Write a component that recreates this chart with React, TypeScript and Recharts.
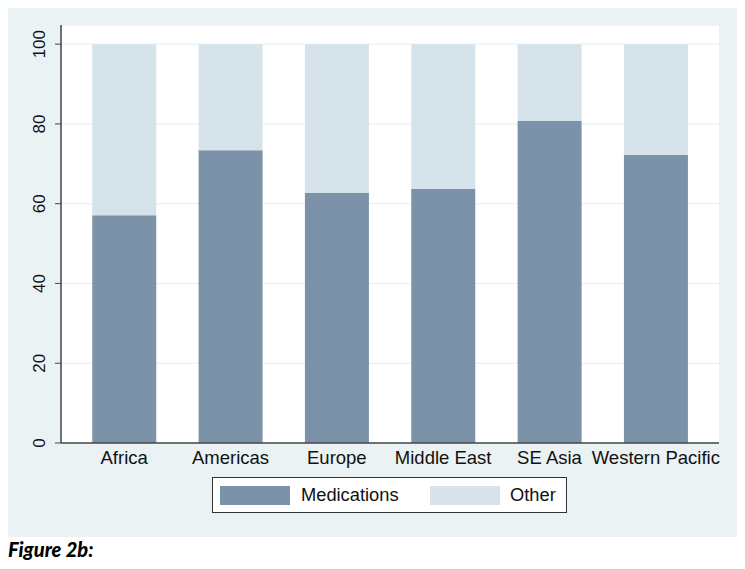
import { Bar, BarChart, CartesianGrid, XAxis, YAxis } from 'recharts'

const regions = ['Africa', 'Americas', 'Europe', 'Middle East', 'SE Asia', 'Western Pacific']
const medications = [57.1, 73.4, 62.7, 63.7, 80.7, 72.2]
const other = [42.9, 26.6, 37.3, 36.3, 19.3, 27.8]
const yTicks = [0, 20, 40, 60, 80, 100]

const MED_COLOR = '#7b92a9'
const OTHER_COLOR = '#d7e3ea'
const PANEL_BG = '#eaf2f3'
const FONT = '"Liberation Sans", Arial, sans-serif'

const rows = regions.map((region, i) => ({
  region,
  medications: medications[i],
  other: other[i],
}))

const YTick = (props: any) => {
  const { x, y, payload } = props
  const tx = x - 10
  return (
    <text
      x={tx}
      y={y}
      transform={`rotate(-90 ${tx} ${y})`}
      textAnchor="middle"
      fill="#111"
      fontSize={17}
      fontFamily={FONT}
    >
      {payload.value}
    </text>
  )
}

const LegendBox = () => (
  <div
    style={{
      position: 'absolute',
      left: 204,
      top: 469,
      width: 353,
      height: 34,
      background: '#fff',
      border: '1.5px solid #333',
      fontFamily: FONT,
      fontSize: 18.3,
      color: '#111',
    }}
  >
    <div style={{ position: 'absolute', left: 7, top: 8, width: 70, height: 19, background: MED_COLOR }} />
    <div style={{ position: 'absolute', left: 88, top: 7, lineHeight: '20px' }}>Medications</div>
    <div style={{ position: 'absolute', left: 217, top: 8, width: 70, height: 19, background: OTHER_COLOR }} />
    <div style={{ position: 'absolute', left: 297, top: 7, lineHeight: '20px' }}>Other</div>
  </div>
)

export default function App() {
  return (
    <div style={{ position: 'relative', width: 729, height: 560 }}>
      <div style={{ position: 'absolute', left: 0, top: 0, width: 729, height: 529, background: PANEL_BG }}>
        <BarChart
          width={729}
          height={529}
          data={rows}
          margin={{ top: 17, right: 18, left: 0, bottom: 64 }}
          barCategoryGap="20%"
        >
          <CartesianGrid vertical={false} stroke="#e4eef3" fill="#fff" fillOpacity={1} />
          <XAxis
            dataKey="region"
            height={30}
            tickLine={false}
            tickSize={0}
            tickMargin={8}
            padding={{ left: 10, right: 10 }}
            axisLine={{ stroke: '#444', strokeWidth: 1.5 }}
            tick={{ fill: '#111', fontSize: 18.5, fontFamily: FONT }}
            interval={0}
          />
          <YAxis
            width={53}
            domain={[0, 104.8]}
            ticks={yTicks}
            tickSize={6}
            tickMargin={0}
            axisLine={{ stroke: '#444', strokeWidth: 1.5 }}
            tickLine={{ stroke: '#444' }}
            tick={<YTick />}
            allowDataOverflow
          />
          <Bar dataKey="medications" stackId="a" fill={MED_COLOR} isAnimationActive={false} />
          <Bar dataKey="other" stackId="a" fill={OTHER_COLOR} isAnimationActive={false} />
        </BarChart>
        <LegendBox />
      </div>
      <div
        style={{
          position: 'absolute',
          left: 0,
          top: 529,
          fontFamily: 'Lato, sans-serif',
          fontWeight: 900,
          fontStyle: 'italic',
          fontSize: 20,
          lineHeight: '24px',
          color: '#000',
        }}
      >
        Figure 2b:
      </div>
    </div>
  )
}
